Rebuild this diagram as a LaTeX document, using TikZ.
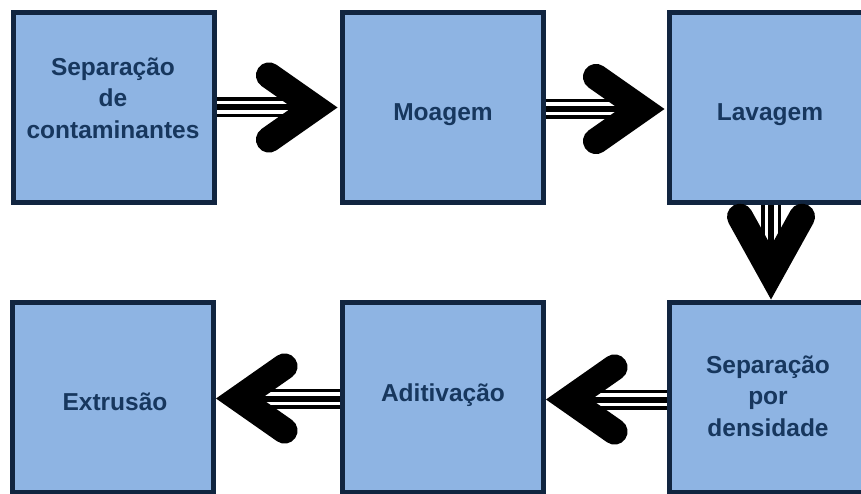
\documentclass[tikz,border=0pt]{standalone}
\usepackage{fontspec}
\setmainfont{Liberation Sans}
\usetikzlibrary{calc}
\definecolor{boxfill}{HTML}{8EB4E3}
\definecolor{boxline}{HTML}{112540}
\definecolor{txt}{HTML}{17375E}
\newcommand\mychevron[4]{%
  \begin{scope}[shift={(#1)}, rotate=#2]
    \draw[chevline] ({-13/sin(#3) - #4*cos(#3)}, {#4*sin(#3)}) -- ({-13/sin(#3)},0) -- ({-13/sin(#3) - #4*cos(#3)}, {-#4*sin(#3)});
  \end{scope}}
\begin{document}
\begin{tikzpicture}[x=1pt,y=-1pt,
  procbox/.style={draw=boxline, fill=boxfill, line width=5pt, minimum width=201pt, minimum height=190pt, inner sep=0pt},
  label/.style={text=txt, font=\fontsize{24.5}{31.5}\selectfont\bfseries, align=center, inner sep=0pt},
  shaftout/.style={draw=black, line width=3.5pt, double=white, double distance=13pt},
  shaftin/.style={draw=black, line width=6pt},
  chevline/.style={draw=black, line width=26pt, line cap=round, line join=miter}]
\useasboundingbox (0,0) rectangle (861,494);
\clip (0,0) rectangle (861,494);
% boxes
\node[procbox] (b1) at (114,107.5) {};
\node[procbox] (b2) at (443,107.5) {};
\node[procbox] (b3) at (770,107.5) {};
\node[procbox] (b4) at (113,397) {};
\node[procbox] (b5) at (443,397) {};
\node[procbox] (b6) at (770,397) {};
% texts
\node[label, anchor=center] (t1) at (113,98) {Separação\\de\\contaminantes};
\node[label, anchor=base] (t2) at (443,121) {Moagem};
\node[label, anchor=base] (t3) at (770,121) {Lavagem};
\node[label, anchor=center] (t6) at (768,396) {Separação\\por\\densidade};
\node[label, anchor=base] (t5) at (443,401) {Aditivação};
\node[label, anchor=base] (t4) at (115,410) {Extrusão};
% arrow tips and apexes
\coordinate (tip1) at ($(b2.west)+(-2.5,0)$);
\coordinate (tip2) at ($(b3.west)+(-2.5,1.5)$);
\coordinate (tip3) at ($(b6.north)+(1,0)$);
\coordinate (tip4) at ($(b5.east)+(0,2.5)$);
\coordinate (tip5) at ($(b4.east)+(0,1.5)$);
\coordinate (a1) at ($(tip1)+(-22.7,0)$);
\coordinate (a2) at ($(tip2)+(-22.7,0)$);
\coordinate (a3) at ($(tip3)+(0,-26.8)$);
\coordinate (a4) at ($(tip4)+(22.7,0)$);
\coordinate (a5) at ($(tip5)+(22.7,0)$);
% shafts
\draw[shaftout] (b1.east |- a1) -- (a1); \draw[shaftin] (b1.east |- a1) -- (a1);
\draw[shaftout] (b2.east |- a2) -- (a2); \draw[shaftin] (b2.east |- a2) -- (a2);
\draw[shaftout] (b3.south -| a3) -- (a3); \draw[shaftin] (b3.south -| a3) -- (a3);
\draw[shaftout] (b6.west |- a4) -- (a4); \draw[shaftin] (b6.west |- a4) -- (a4);
\draw[shaftout] (b5.west |- a5) -- (a5); \draw[shaftin] (b5.west |- a5) -- (a5);
% heads
\mychevron{tip1}{0}{35}{56}
\mychevron{tip2}{0}{35}{56}
\mychevron{tip3}{-90}{29}{64}
\mychevron{tip4}{180}{35}{56}
\mychevron{tip5}{180}{35}{56}
\end{tikzpicture}
\end{document}
